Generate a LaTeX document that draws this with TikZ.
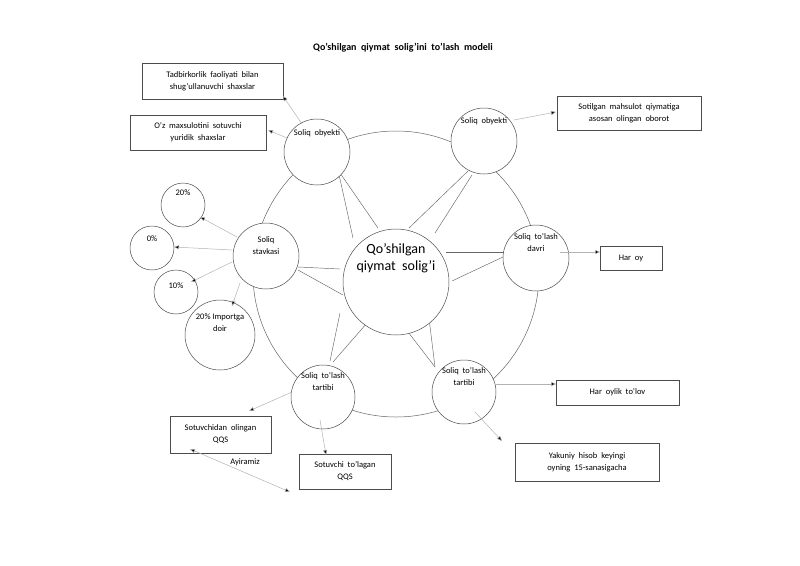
\documentclass[tikz,border=0pt]{standalone}
\usepackage{fontspec}
\setmainfont{Carlito}
\usetikzlibrary{arrows.meta}
\begin{document}
\begin{tikzpicture}[x=1pt,y=-1pt,
  hub/.style={circle,draw=black!70,fill=white,line width=0.5pt,inner sep=0pt},
  box/.style={draw=black!70,line width=0.6pt,align=center,font=\fontsize{8.5}{12}\selectfont,inner sep=0pt},
  lbl/.style={align=center,font=\fontsize{8.5}{12}\selectfont},
  spoke/.style={draw=black!60,line width=0.45pt},
  arr/.style={draw=black!30,line width=0.5pt,-{Triangle[length=5pt,width=4pt,fill=black]}}]
\useasboundingbox (0,0) rectangle (800,565);
\node[font=\bfseries\fontsize{10}{12}\selectfont] (title) at (403,48) {Qo’shilgan\ \ qiymat\ \ solig’ini\ \ to’lash\ \ modeli};
% big ring
\draw[black!60,line width=0.5pt] (396,274) circle (143);
% spokes
\coordinate (s1a) at (338,170); \coordinate (s1b) at (353,238);
\coordinate (s2a) at (340,173); \coordinate (s2b) at (378,228);
\coordinate (s3a) at (468,171); \coordinate (s3b) at (409,228);
\coordinate (s4a) at (472,175); \coordinate (s4b) at (435,233);
\coordinate (s5a) at (446,252); \coordinate (s5b) at (505,252);
\coordinate (s6a) at (452,281); \coordinate (s6b) at (505,256);
\coordinate (s7a) at (298,267); \coordinate (s7b) at (340,269);
\coordinate (s8a) at (298,270); \coordinate (s8b) at (343,295);
\coordinate (s9a) at (330,361); \coordinate (s9b) at (340,313);
\coordinate (s10a) at (333,362); \coordinate (s10b) at (367,323);
\coordinate (s11a) at (435,367); \coordinate (s11b) at (428,310);
\coordinate (s12a) at (435,367); \coordinate (s12b) at (405,328);
\foreach \i in {1,...,12}{\draw[spoke] (s\i a) -- (s\i b);}
% hubs
\node[hub,minimum size=106pt] (c) at (396,282) {};
\node[font=\fontsize{14}{17}\selectfont,align=center] (ct) at (396,258) {Qo’shilgan\\qiymat\ \ solig’i};
\node[hub,minimum size=66pt] (ob1) at (317,152) {};
\node[lbl] (ob1t) at (317,133) {Soliq\ \ obyekti};
\node[hub,minimum size=66pt] (ob2) at (484,141) {};
\node[lbl] (ob2t) at (484,121) {Soliq\ \ obyekti};
\node[hub,minimum size=66pt] (dv) at (536,258) {};
\node[lbl] (dvt) at (536,243) {Soliq\ \ to’lash\\davri};
\node[hub,minimum size=66pt] (st) at (266,256) {};
\node[lbl] (stt) at (266,246) {Soliq\\stavkasi};
\node[hub,minimum size=64pt] (t1) at (323,397) {};
\node[lbl] (t1t) at (323,382) {Soliq\ \ to’lash\\tartibi};
\node[hub,minimum size=64pt] (t2) at (464,392) {};
\node[lbl] (t2t) at (464,377) {Soliq\ \ to’lash\\tartibi};
\node[hub,minimum size=44pt] (p20) at (183,205) {};
\node[lbl] at (183,193) {20\%};
\node[hub,minimum size=44pt] (p0) at (152,248) {};
\node[lbl] at (152,239) {0\%};
\node[hub,minimum size=44pt] (p10) at (176,292) {};
\node[lbl] at (176,286) {10\%};
\node[hub,minimum size=70pt] (p20i) at (220,335) {};
\node[lbl] (p20it) at (220,323) {20\% Importga\\doir};
% boxes
\node[box,minimum width=141pt,minimum height=36pt] (b1) at (212.5,81) {Tadbirkorlik\ \ faoliyati\ \ bilan\\shug’ullanuvchi\ \ shaxslar};
\node[box,minimum width=136pt,minimum height=35pt] (b2) at (198,132.5) {O’z\ \ maxsulotini\ \ sotuvchi\\yuridik\ \ shaxslar};
\node[box,minimum width=144pt,minimum height=34pt] (b3) at (629,113) {Sotilgan\ \ mahsulot\ \ qiymatiga\\asosan\ \ olingan\ \ oborot};
\node[box,minimum width=62pt,minimum height=24pt] (b4) at (631,258) {Har\ \ oy};
\node[box,minimum width=123pt,minimum height=25pt] (b5) at (617.5,392.5) {Har\ \ oylik\ \ to’lov};
\node[box,minimum width=144pt,minimum height=38pt] (b6) at (587,462) {Yakuniy\ \ hisob\ \ keyingi\\oyning\ \ 15-sanasigacha};
\node[box,minimum width=101pt,minimum height=37pt] (b7) at (220.5,434.5) {Sotuvchidan\ \ olingan\\QQS};
\node[box,minimum width=92pt,minimum height=35pt] (b8) at (345,471.5) {Sotuvchi\ \ to’lagan\\QQS};
% arrows
\coordinate (a1s) at (302,124); \coordinate (a1e) at (283,96);
\coordinate (a2s) at (287,138); \coordinate (a2e) at (268,130);
\coordinate (a3s) at (514,120); \coordinate (a3e) at (556,112);
\coordinate (a4s) at (560,252); \coordinate (a4e) at (600,252);
\coordinate (a5s) at (495,384); \coordinate (a5e) at (556,384);
\coordinate (a6s) at (475,412); \coordinate (a6e) at (502,441);
\coordinate (a7s) at (292,392); \coordinate (a7e) at (249,411);
\coordinate (a8s) at (320,420); \coordinate (a8e) at (326,455);
\coordinate (a9s) at (237,237); \coordinate (a9e) at (200,217);
\coordinate (a10s) at (232,250); \coordinate (a10e) at (174,247);
\coordinate (a11s) at (232,262); \coordinate (a11e) at (191,282);
\coordinate (a12s) at (240,283); \coordinate (a12e) at (232,306);
\foreach \i in {1,...,12}{\draw[arr] (a\i s) -- (a\i e);}
\coordinate (ay1) at (190,449); \coordinate (ay2) at (290,492);
\draw[arr,{Triangle[length=5pt,width=4pt,fill=black]}-{Triangle[length=5pt,width=4pt,fill=black]}] (ay1) -- (ay2);
\node[lbl] (ay) at (245,462) {Ayiramiz};
\end{tikzpicture}
\end{document}
